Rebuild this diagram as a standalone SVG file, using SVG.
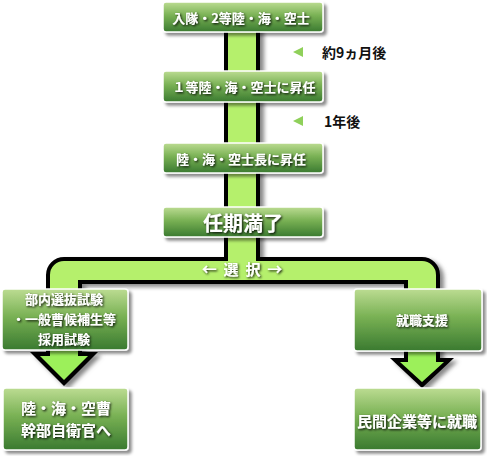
<svg xmlns="http://www.w3.org/2000/svg" width="487" height="456" viewBox="0 0 487 456">
<defs>
<linearGradient id="boxg" x1="0" y1="0" x2="0" y2="1">
<stop offset="0" stop-color="#bcdc92"/>
<stop offset="0.45" stop-color="#79b154"/>
<stop offset="1" stop-color="#3a7a30"/>
</linearGradient>
<filter id="sh" x="-20%" y="-20%" width="140%" height="140%">
<feGaussianBlur stdDeviation="2"/>
</filter>
<filter id="boxsh" x="-10%" y="-20%" width="125%" height="150%">
<feDropShadow dx="3" dy="3" stdDeviation="1.5" flood-color="#000" flood-opacity="0.45"/>
</filter>
<filter id="tsh" x="-10%" y="-30%" width="125%" height="170%">
<feDropShadow dx="1.2" dy="1.2" stdDeviation="1" flood-color="#000" flood-opacity="0.9"/>
</filter>
<style>
.box{fill:url(#boxg);stroke:#fff;stroke-width:1.5;filter:url(#boxsh)}
.t{font-family:"Noto Sans CJK JP","Noto Sans",sans-serif;font-weight:bold;fill:#fff;text-anchor:middle;dominant-baseline:central;filter:url(#tsh)}
.lbl{font-family:"Noto Sans CJK JP","Noto Sans",sans-serif;font-weight:bold;fill:#111;font-size:14px;dominant-baseline:central}
.tri{fill:#8fd05a}
</style>
</defs>
<g id="connectors">
<g filter="url(#sh)" fill="#888" transform="translate(4,3)">
<rect x="224" y="15" width="36" height="250"/>
<path d="M46,352 L46,275 A18,18 0 0 1 64,257 L422,257 A18,18 0 0 1 440,275 L440,358 L454,358 L422,388 L390,358 L404,358 L404,284 L82,284 L82,352 L98,352 L64,386 L30,352 Z"/>
</g>
<rect x="224" y="15" width="36" height="250" fill="#000"/>
<path fill="#000" d="M46,352 L46,275 A18,18 0 0 1 64,257 L422,257 A18,18 0 0 1 440,275 L440,358 L454,358 L422,388 L390,358 L404,358 L404,284 L82,284 L82,352 L98,352 L64,386 L30,352 Z"/>
<rect x="228" y="15" width="28" height="250" fill="#b5f06c"/>
<path fill="#b5f06c" d="M50,352 L50,275 A14,14 0 0 1 64,261 L422,261 A14,14 0 0 1 436,275 L436,358 L408,358 L408,280 L78,280 L78,352 Z"/>
<path fill="#9cf05a" d="M50,340 L78,340 L78,356 L88,356 L64,380 L40,356 L50,356 Z"/>
<path fill="#9cf05a" d="M408,345 L436,345 L436,362 L444,362 L422,382 L400,362 L408,362 Z"/>
<text class="t" x="242" y="268" font-size="15" xml:space="preserve">←  選  択  →</text>
</g>
<g id="label1">
<polygon class="tri" points="293,52 303,47 303,57"/>
<text class="lbl" x="322" y="52">約9ヵ月後</text>
</g>
<g id="label2">
<polygon class="tri" points="293,121 303,116 303,126"/>
<text class="lbl" x="324" y="121">1年後</text>
</g>
<g id="n1">
<rect class="box" x="163" y="2" width="160" height="30" rx="3"/>
<text class="t" x="241" y="17" font-size="13">入隊・2等陸・海・空士</text>
</g>
<g id="n2">
<rect class="box" x="163" y="71" width="160" height="31" rx="3"/>
<text class="t" x="244" y="86.5" font-size="13">１等陸・海・空士に昇任</text>
</g>
<g id="n3">
<rect class="box" x="163" y="143" width="160" height="30" rx="3"/>
<text class="t" x="241" y="158" font-size="13">陸・海・空士長に昇任</text>
</g>
<g id="n4">
<rect class="box" x="163" y="207" width="160" height="30" rx="3"/>
<text class="t" x="243" y="222" font-size="20">任期満了</text>
</g>
<g id="n5">
<rect class="box" x="2" y="289" width="126" height="61" rx="3"/>
<text class="t" x="64" y="298" font-size="13">部内選抜試験</text>
<text class="t" x="64" y="318" font-size="13">・一般曹候補生等</text>
<text class="t" x="64" y="338" font-size="13">採用試験</text>
</g>
<g id="n6">
<rect class="box" x="354" y="289" width="128" height="62" rx="3"/>
<text class="t" x="422" y="319" font-size="13">就職支援</text>
</g>
<g id="n7">
<rect class="box" x="3" y="388" width="125" height="62" rx="3"/>
<text class="t" x="66" y="407" font-size="15">陸・海・空曹</text>
<text class="t" x="66" y="429" font-size="15">幹部自衛官へ</text>
</g>
<g id="n8">
<rect class="box" x="354" y="388" width="127" height="62" rx="3"/>
<text class="t" x="417" y="420" font-size="15">民間企業等に就職</text>
</g>
</svg>
